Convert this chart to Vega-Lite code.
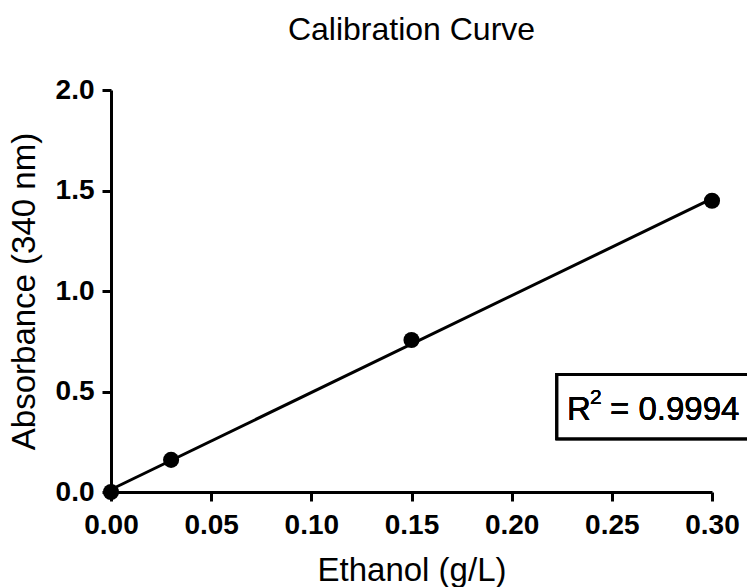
{
  "$schema": "https://vega.github.io/schema/vega-lite/v6.json",
  "autosize": {"type": "none"},
  "width": 601,
  "height": 402,
  "padding": {"left": 111, "top": 90, "right": 35, "bottom": 95},
  "background": "white",
  "title": {
    "text": "Calibration Curve",
    "font": "Liberation Sans",
    "fontSize": 32,
    "fontWeight": "normal",
    "color": "black",
    "anchor": "middle",
    "offset": 29
  },
  "config": {
    "view": {"stroke": null},
    "axis": {
      "grid": false,
      "labelFlush": false,
      "domainColor": "black",
      "domainWidth": 3,
      "tickColor": "black",
      "tickWidth": 3,
      "tickSize": 9,
      "labelFont": "Liberation Sans",
      "labelFontSize": 28,
      "labelFontWeight": "bold",
      "labelColor": "black",
      "titleFont": "Liberation Sans",
      "titleFontSize": 33,
      "titleFontWeight": "normal",
      "titleColor": "black"
    }
  },
  "data": {
    "values": [
      {"ethanol": 0.0, "absorbance": 0.0},
      {"ethanol": 0.03, "absorbance": 0.16},
      {"ethanol": 0.15, "absorbance": 0.756},
      {"ethanol": 0.30, "absorbance": 1.449}
    ]
  },
  "layer": [
    {
      "mark": {"type": "rect", "fill": "white", "stroke": "black", "strokeWidth": 3},
      "encoding": {
        "x": {"datum": 0.2226, "type": "quantitative", "scale": {"domain": [0, 0.3]}},
        "x2": {"datum": 0.33},
        "y": {"datum": 0.585, "type": "quantitative", "scale": {"domain": [0, 2]}},
        "y2": {"datum": 0.265}
      }
    },
    {
      "mark": {"type": "text", "text": "R", "font": "Liberation Sans", "fontSize": 33, "align": "left", "baseline": "middle", "color": "black"},
      "encoding": {
        "x": {"datum": 0.2276, "type": "quantitative"},
        "y": {"datum": 0.41, "type": "quantitative"}
      }
    },
    {
      "mark": {"type": "text", "text": "2", "font": "Liberation Sans", "fontSize": 21, "align": "left", "baseline": "middle", "color": "black", "dx": 23, "dy": -12},
      "encoding": {
        "x": {"datum": 0.2276, "type": "quantitative"},
        "y": {"datum": 0.41, "type": "quantitative"}
      }
    },
    {
      "mark": {"type": "text", "text": "= 0.9994", "font": "Liberation Sans", "fontSize": 33, "align": "left", "baseline": "middle", "color": "black", "dx": 43},
      "encoding": {
        "x": {"datum": 0.2276, "type": "quantitative"},
        "y": {"datum": 0.41, "type": "quantitative"}
      }
    },
    {
      "transform": [{"regression": "absorbance", "on": "ethanol"}],
      "mark": {"type": "line", "color": "black", "strokeWidth": 3},
      "encoding": {
        "x": {"field": "ethanol", "type": "quantitative"},
        "y": {"field": "absorbance", "type": "quantitative"}
      }
    },
    {
      "mark": {"type": "point", "filled": true, "color": "black", "size": 260, "opacity": 1},
      "encoding": {
        "x": {
          "field": "ethanol",
          "type": "quantitative",
          "title": "Ethanol (g/L)",
          "scale": {"domain": [0, 0.3], "nice": false},
          "axis": {"values": [0, 0.05, 0.1, 0.15, 0.2, 0.25, 0.3], "format": ".2f", "labelPadding": 10, "titlePadding": 15}
        },
        "y": {
          "field": "absorbance",
          "type": "quantitative",
          "title": "Absorbance (340 nm)",
          "scale": {"domain": [0, 2], "nice": false},
          "axis": {"values": [0, 0.5, 1, 1.5, 2], "format": ".1f", "labelPadding": 8, "titlePadding": 14}
        }
      }
    }
  ]
}
